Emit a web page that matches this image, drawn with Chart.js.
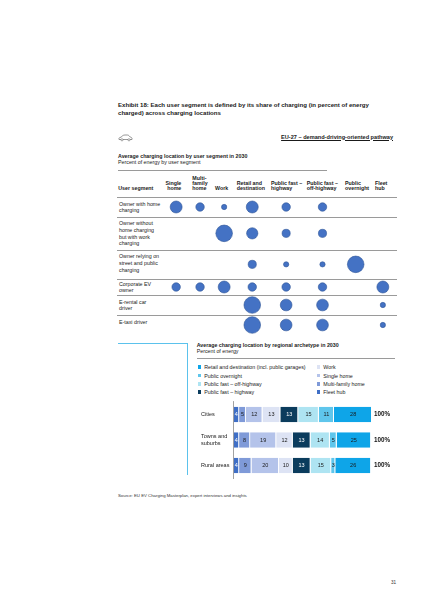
<!DOCTYPE html>
<html><head><meta charset="utf-8">
<script src="https://cdn.jsdelivr.net/npm/chart.js@4.4.1/dist/chart.umd.min.js"></script>
<style>
html,body{margin:0;padding:0;background:#fff;}
body{width:424px;height:600px;position:relative;overflow:hidden;font-family:"Liberation Sans",Arial,sans-serif;color:#1a1a1a;}
.abs{position:absolute;white-space:nowrap;}
.title{left:118px;top:100.8px;font-size:6.1px;line-height:8.3px;font-weight:bold;}
.eu{right:31px;top:133.5px;font-size:5.6px;line-height:7px;font-weight:bold;text-decoration:underline;}
.sub{font-size:5.3px;line-height:6.6px;}
.hdr{font-size:5.3px;line-height:5.3px;font-weight:bold;bottom:408.6px;}
.hline{position:absolute;height:0;border-top:0.8px solid #9a9a9a;}
.rowlab{position:absolute;left:119px;font-size:5.3px;line-height:6.7px;white-space:nowrap;}
.leg{position:absolute;left:197.5px;top:363px;display:grid;grid-template-columns:119px 80px;grid-auto-flow:column;grid-template-rows:repeat(4,8.4px);font-size:5.3px;}
.leg div{display:flex;align-items:center;white-space:nowrap;}
.leg span.sw{display:inline-block;width:3.8px;height:3.8px;margin-right:3px;}
</style></head><body>

<div class="abs title">Exhibit 18: Each user segment is defined by its share of charging (in percent of energy<br>charged) across charging locations</div>

<svg class="abs" style="left:117.5px;top:133.5px" width="15" height="8" viewBox="0 0 15 8">
<path d="M1 5.5 L1 4.2 Q1.3 3.4 3 3.2 L4.8 1.6 Q5.6 1 7 1 L9.4 1 Q10.4 1 11.2 1.9 L12.3 3.1 Q13.8 3.4 14 4.3 L14 5.5 Z" fill="none" stroke="#6b6b6b" stroke-width="0.7"/>
<circle cx="4" cy="5.8" r="1.1" fill="#fff" stroke="#6b6b6b" stroke-width="0.6"/>
<circle cx="11" cy="5.8" r="1.1" fill="#fff" stroke="#6b6b6b" stroke-width="0.6"/>
</svg>
<div class="abs eu">EU-27 – demand-driving-oriented pathway</div>

<div class="abs sub" style="left:118px;top:152.7px"><b>Average charging location by user segment in 2030</b><br>Percent of energy by user segment</div>
<div class="hline" style="left:118px;width:209px;top:169.8px;"></div>

<div class="abs hdr" style="left:118.3px">User segment</div>
<div class="abs hdr" style="right:242.7px;text-align:right">Single<br>home</div>
<div class="abs hdr" style="left:192.3px">Multi-<br>family<br>home</div>
<div class="abs hdr" style="left:215px">Work</div>
<div class="abs hdr" style="left:236.7px">Retail and<br>destination</div>
<div class="abs hdr" style="left:271px">Public fast –<br>highway</div>
<div class="abs hdr" style="left:306.7px">Public fast –<br>off-highway</div>
<div class="abs hdr" style="left:345px">Public<br>overnight</div>
<div class="abs hdr" style="left:375px">Fleet<br>hub</div>

<div id="table"></div>
<div style="position:absolute;left:164px;top:197.3px;width:231px;height:138px;"><canvas id="bub"></canvas></div>

<div style="position:absolute;left:118px;top:343px;width:69px;height:131px;border-top:1px solid #5bc2ec;border-right:1px solid #5bc2ec;"></div>

<div class="abs sub" style="left:196.7px;top:341.7px;line-height:6.4px"><b>Average charging location by regional archetype in 2030</b><br>Percent of energy</div>
<div class="hline" style="left:197px;width:198px;top:358px;"></div>
<div class="leg" id="legend"></div>

<div style="position:absolute;left:200.7px;top:395px;width:195px;height:90px;"><canvas id="bar"></canvas></div>

<div class="abs" style="left:118px;top:493px;font-size:4.3px;color:#333">Source: EU EV Charging Masterplan, expert interviews and insights</div>
<div class="abs" style="left:391px;top:579.5px;font-size:4.6px;color:#333">31</div>

<script>
// ---------- Data: user segments bubble table ----------
const locations = ['Single home','Multi-family home','Work','Retail and destination','Public fast – highway','Public fast – off-highway','Public overnight','Fleet hub'];
const userSegments = ['Owner with home charging','Owner without home charging but with work charging','Owner relying on street and public charging','Corporate EV owner','E-rental car driver','E-taxi driver'];
const userSegmentLines = [['Owner with home','charging'],['Owner without','home charging','but with work','charging'],['Owner relying on','street and public','charging'],['Corporate EV','owner'],['E-rental car','driver'],['E-taxi driver']];
const ownerHome      = [26, 13, 5, 26, 13, 13, 0, 0];
const ownerWork      = [0, 0, 50, 23, 12, 12, 0, 0];
const ownerPublic    = [0, 0, 0, 12, 5, 5, 50, 0];
const corporateOwner = [13, 13, 26, 13, 13, 13, 0, 26];
const eRental        = [0, 0, 0, 50, 25, 25, 0, 5];
const eTaxi          = [0, 0, 0, 50, 25, 25, 0, 5];
const segmentShares = [ownerHome, ownerWork, ownerPublic, corporateOwner, eRental, eTaxi];

// ---------- Data: regional archetypes stacked bar ----------
const regions = [['Cities'],['Towns and','suburbs'],['Rural areas']];
const barSegments = ['Fleet hub','Multi-family home','Single home','Work','Public fast – highway','Public fast – off-highway','Public overnight','Retail and destination (incl. public garages)'];
const cities = [4, 5, 12, 13, 13, 15, 11, 28];
const towns  = [4, 8, 19, 12, 13, 14, 5, 25];
const rural  = [4, 9, 20, 10, 13, 15, 3, 26];
const regionValues = [cities, towns, rural];
const totalLabels = ['100%','100%','100%'];

// ---------- Styles / layout ----------
const colBands = [24.3, 23.5, 24.7, 31.5, 36.3, 36.4, 30, 24.3];
const rowBands = [20, 32.7, 29.3, 16, 20, 20];
const bubbleColor = '#4472c4', bubbleBorder = '#2f5597';
const segColors = ['#3f6fc6','#7f9ad8','#b4c3ea','#dde3f4','#0b3c5d','#aee4f2','#5fc6ec','#0ea5e8'];
const segLabelColors = ['#ffffff','#1a1a1a','#1a1a1a','#1a1a1a','#ffffff','#1a1a1a','#1a1a1a','#1a1a1a'];

Chart.defaults.font.family = '"Liberation Sans", Arial, sans-serif';
Chart.defaults.color = '#1a1a1a';

// Row labels + separators (HTML), using the same row bands as the chart
(function(){
  const t = document.getElementById('table');
  let y = 197.3;
  const mk = (top) => { const d = document.createElement('div'); d.className='hline'; d.style.left='117.3px'; d.style.width='279.4px'; d.style.top=(top-0.4)+'px'; t.appendChild(d); };
  mk(y);
  rowBands.forEach((h,i)=>{
    const lines = userSegmentLines[i];
    const pad = Math.min((h - lines.length*6.7)/2, 3.3);
    const d = document.createElement('div'); d.className='rowlab';
    d.style.top = (y + pad) + 'px';
    d.innerHTML = lines.join('<br>');
    t.appendChild(d);
    y += h;
    if (i < rowBands.length-1) mk(y);
  });
})();

// Variable-width category scale
class BandScale extends Chart.CategoryScale {
  getPixelForValue(value) {
    if (typeof value !== 'number') value = this.parse(value);
    const w = this.options.bands;
    const total = w.reduce((a,b)=>a+b,0);
    let acc = 0;
    for (let i=0;i<value;i++) acc += w[i];
    const f = (acc + w[value]/2)/total;
    return this.isHorizontal() ? this.left + f*this.width : this.top + f*this.height;
  }
}
BandScale.id = 'band';
BandScale.defaults = Chart.CategoryScale.defaults;
Chart.register(BandScale);

const bubbleData = [];
segmentShares.forEach((row,i)=>row.forEach((v,j)=>{
  if (v > 0) bubbleData.push({x: locations[j], y: userSegments[i], r: 1.174*Math.sqrt(v)});
}));

new Chart(document.getElementById('bub'), {
  type: 'bubble',
  data: { datasets: [{ data: bubbleData, backgroundColor: bubbleColor, borderColor: bubbleBorder, borderWidth: 0.6, clip: false }] },
  options: {
    responsive: true, maintainAspectRatio: false, animation: false,
    layout: { padding: 0, autoPadding: false },
    plugins: { legend: { display: false }, tooltip: { enabled: false } },
    scales: {
      x: { type: 'band', labels: locations, bands: colBands, display: false },
      y: { type: 'band', labels: userSegments, bands: rowBands, display: false }
    }
  }
});

// Stacked bar
const barLabelPlugin = {
  id: 'barLabels',
  afterDatasetsDraw(chart) {
    const ctx = chart.ctx;
    ctx.save();
    ctx.font = '5.5px "Liberation Sans", Arial, sans-serif';
    ctx.textAlign = 'center'; ctx.textBaseline = 'middle';
    chart.data.datasets.forEach((ds, di) => {
      chart.getDatasetMeta(di).data.forEach((el, i) => {
        const c = el.getCenterPoint();
        ctx.fillStyle = segLabelColors[di];
        ctx.fillText(String(ds.data[i]), c.x, c.y + 0.3);
      });
    });
    ctx.restore();
  }
};

const barChart = new Chart(document.getElementById('bar'), {
  type: 'bar',
  data: {
    labels: regions,
    datasets: barSegments.map((name, i) => ({
      label: name,
      data: regionValues.map(r => r[i]),
      backgroundColor: segColors[i],
      borderColor: '#ffffff',
      borderWidth: { right: 0.9, left: 0, top: 0, bottom: 0 },
      borderSkipped: false,
      barPercentage: 0.61,
      categoryPercentage: 1
    }))
  },
  options: {
    indexAxis: 'y', responsive: true, maintainAspectRatio: false, animation: false,
    layout: { padding: { top: 6.7, bottom: 0, left: 0, right: 0 } },
    plugins: { legend: { display: false }, tooltip: { enabled: false } },
    scales: {
      x: { stacked: true, min: 0, max: 100, display: false },
      y: {
        stacked: true,
        grid: { display: false, drawTicks: false },
        border: { display: true, color: '#8a8a8a', width: 0.8 },
        ticks: { crossAlign: 'far', padding: 0, font: { size: 5.5, lineHeight: 1.1 }, color: '#1a1a1a' },
        afterFit: s => { s.width = 32.6; }
      },
      y2: {
        type: 'category', position: 'right', labels: totalLabels, offset: true,
        grid: { display: false, drawTicks: false }, border: { display: false },
        ticks: { crossAlign: 'near', padding: 3, font: { size: 6.3, weight: 'bold' }, color: '#111' },
        afterFit: s => { s.width = 25; }
      }
    }
  },
  plugins: [barLabelPlugin]
});

// HTML legend from datasets (reverse order, column-major)
(function(){
  const L = document.getElementById('legend');
  barChart.data.datasets.slice().reverse().forEach(ds => {
    const d = document.createElement('div');
    d.innerHTML = '<span class="sw" style="background:'+ds.backgroundColor+'"></span>' + ds.label;
    L.appendChild(d);
  });
})();
</script>
</body></html>
